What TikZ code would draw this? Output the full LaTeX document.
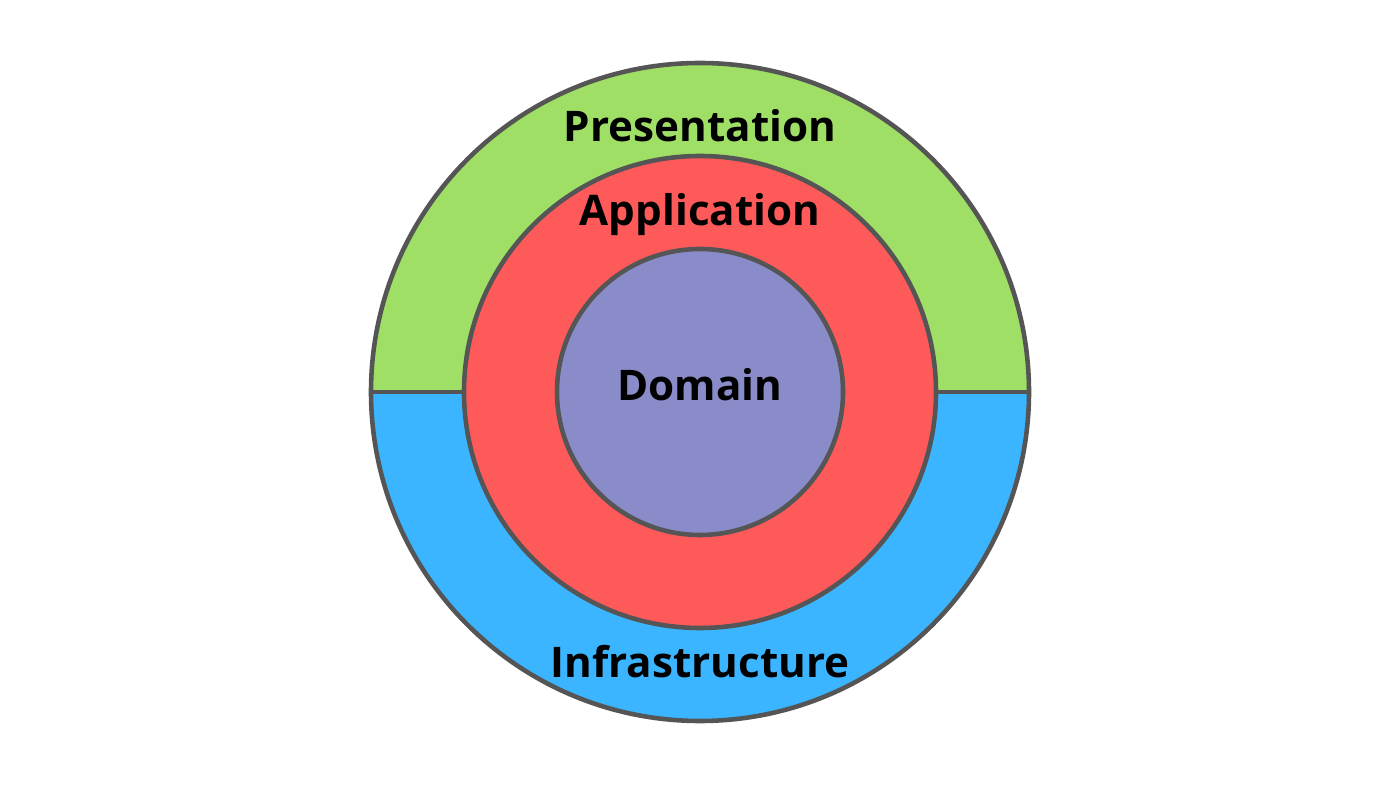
\documentclass[tikz,border=0pt]{standalone}
\usepackage{fontspec}
\setmainfont{Open Sans}
\usetikzlibrary{positioning}
\definecolor{presgreen}{HTML}{9FDF66}
\definecolor{infrablue}{HTML}{3BB5FF}
\definecolor{appred}{HTML}{FF5A5A}
\definecolor{dompurple}{HTML}{898CC8}
\definecolor{ringline}{HTML}{555555}
\tikzset{
    ring/.style = {draw=ringline, line width=1.3pt},
    layer/.style = {font=\fontsize{12}{14}\selectfont\bfseries, text=black}
}
\begin{document}
\begin{tikzpicture}
    \useasboundingbox (0,0) rectangle (14,7.88);
    \coordinate (centre) at (7,3.96);
    \fill [presgreen] (centre) ++(-3.29,0) arc (180:0:3.29) -- cycle;
    \fill [infrablue] (centre) ++(3.29,0) arc (0:-180:3.29) -- cycle;
    \draw [ring] (centre) ++(-3.29,0) -- ++(6.58,0);
    \draw [ring] (centre) circle (3.29);
    \draw [ring, fill=appred] (centre) circle (2.36);
    \draw [ring, fill=dompurple] (centre) circle (1.43);
    \node [layer] (presentation) at (7,6.62) {Presentation};
    \node [layer] (application) at (7,5.73) {Application};
    \node [layer] (domain) at (7,4.03) {Domain};
    \node [layer] (infrastructure) at (7,1.26) {Infrastructure};
\end{tikzpicture}
\end{document}
